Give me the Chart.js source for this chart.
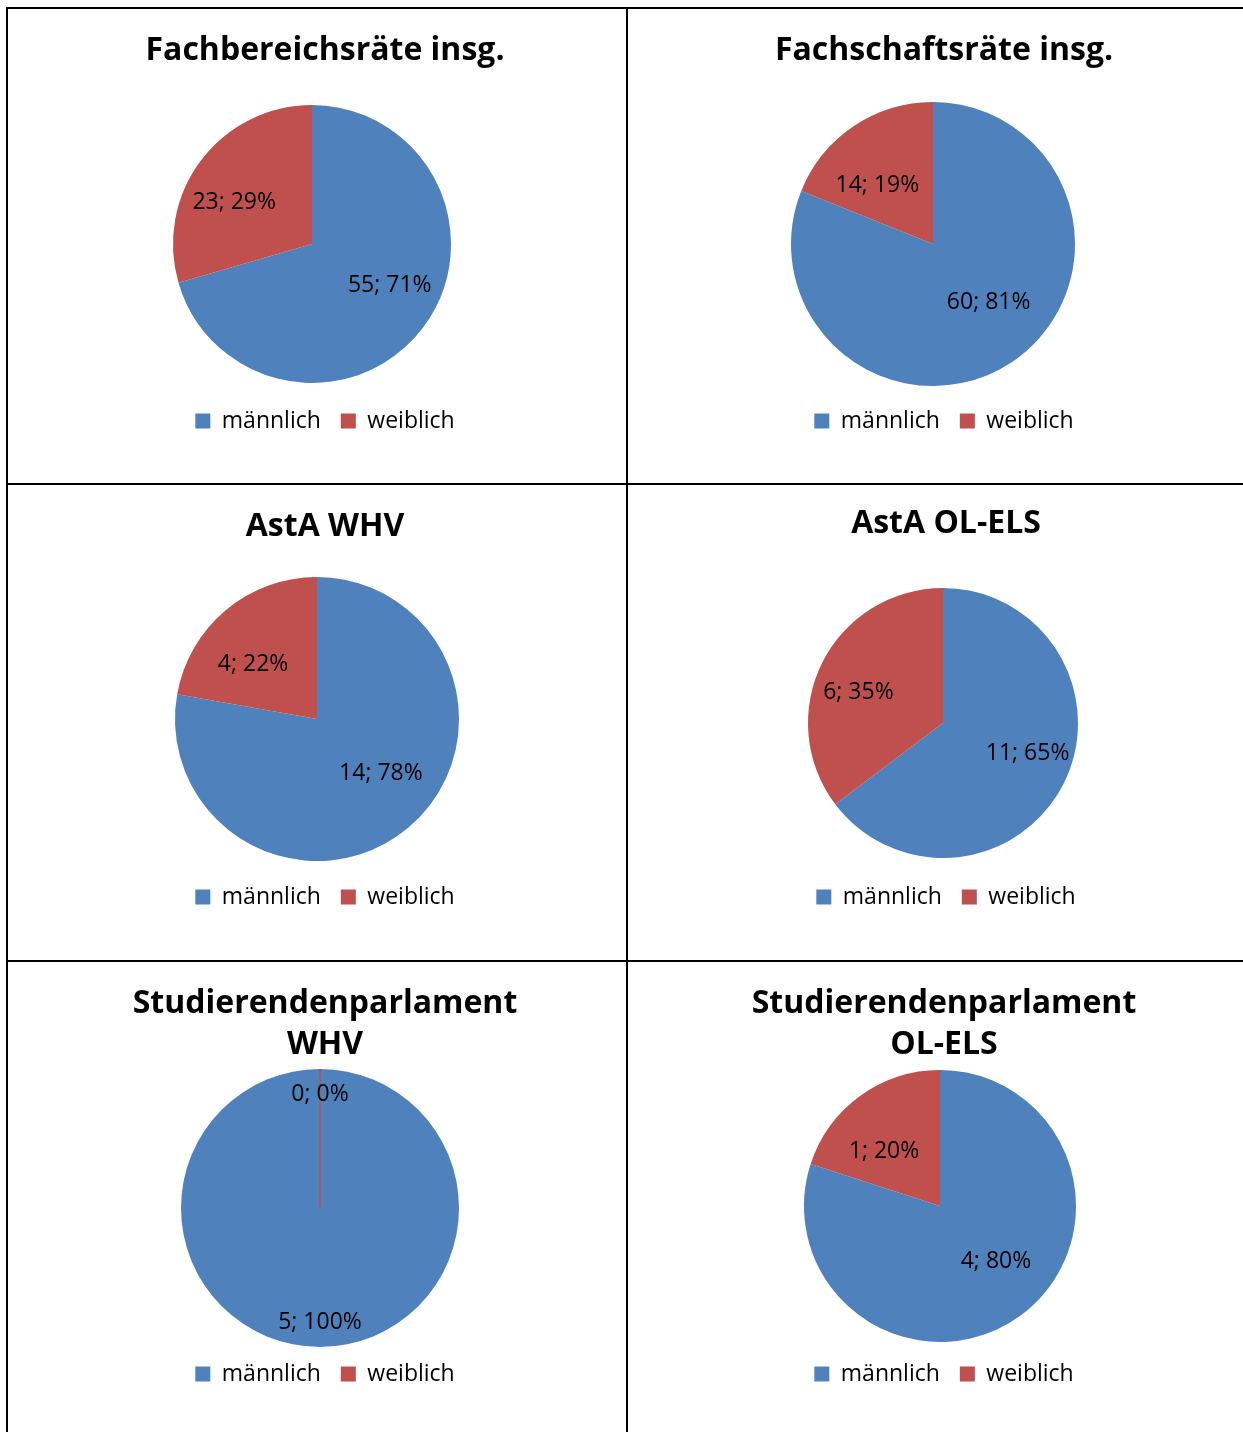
<!DOCTYPE html>
<html>
<head>
<meta charset="utf-8">
<title>Geschlechterverteilung Gremien</title>
<script src="https://cdn.jsdelivr.net/npm/chart.js@4.4.0/dist/chart.umd.min.js"></script>
<style>
    body { margin: 0; background: #fff; width: 1243px; height: 1432px; position: relative; overflow: hidden; }
    canvas { position: absolute; }
    .line { position: absolute; background: #000; z-index: 2; }
</style>
</head>
<body>
<div class="line" style="left:6px;top:7px;width:1237px;height:2px"></div>
<div class="line" style="left:6px;top:7px;width:2px;height:1425px"></div>
<div class="line" style="left:626px;top:7px;width:2px;height:1425px"></div>
<div class="line" style="left:6px;top:483px;width:1237px;height:2px"></div>
<div class="line" style="left:6px;top:960px;width:1237px;height:2px"></div>

<script>
    //--- Daten
    var titles = [
        ['Fachbereichsräte insg.'],
        ['Fachschaftsräte insg.'],
        ['AstA WHV'],
        ['AstA OL-ELS'],
        ['Studierendenparlament', 'WHV'],
        ['Studierendenparlament', 'OL-ELS']
    ];
    var categories = ['männlich', 'weiblich'];
    var maleCounts = [55, 60, 14, 11, 5, 4];
    var femaleCounts = [23, 14, 4, 6, 0, 1];
    var colors = ['#4F81BD', '#C0504D'];

    //--- Lage der einzelnen Diagramme (Pixel im Bild)
    // mid = Mitte von Titel und Legende, cx/cy/r = Kreis
    var boxes = [
        { left: 8, top: 9, width: 618, height: 474, mid: 325, cx: 312, cy: 244, r: 139, titleY: 49, legendY: 421, lx: 0.7, ly: 0.5 },
        { left: 628, top: 9, width: 615, height: 474, mid: 944, cx: 933, cy: 244, r: 142, titleY: 49, legendY: 421, lx: 0.7, ly: 0.5 },
        { left: 8, top: 485, width: 618, height: 475, mid: 325, cx: 317, cy: 719, r: 142, titleY: 525, legendY: 897, lx: 0.7, ly: 0.5 },
        { left: 628, top: 485, width: 615, height: 475, mid: 946, cx: 943, cy: 723, r: 135, titleY: 522, legendY: 897, lx: 0.7, ly: 0.5 },
        { left: 8, top: 962, width: 618, height: 470, mid: 325, cx: 320, cy: 1208, r: 139, titleY: 1002, legendY: 1374, lx: 0.7, ly: 0.82 },
        { left: 628, top: 962, width: 615, height: 470, mid: 944, cx: 940, cy: 1206, r: 136, titleY: 1002, legendY: 1374, lx: 0.7, ly: 0.5 }
    ];

    var titleSize = 32, titleLH = 1.28;
    var legendSize = 23, legendPad = 20;

    // Kreis gegenüber Titel/Legende waagrecht verschieben
    var pieShift = {
        id: 'pieShift',
        beforeDatasetsDraw: function (chart, args, opts) {
            chart.ctx.save();
            chart.ctx.translate(opts.dx, 0);
        },
        afterDatasetsDraw: function (chart) {
            chart.ctx.restore();
        }
    };

    // Beschriftung "Wert; Prozent" in den Segmenten
    var sliceLabels = {
        id: 'sliceLabels',
        afterDatasetsDraw: function (chart, args, opts) {
            var ctx = chart.ctx;
            var meta = chart.getDatasetMeta(0);
            var values = chart.data.datasets[0].data;
            var total = values.reduce(function (a, b) { return a + b; }, 0);
            ctx.save();
            ctx.translate(opts.dx, 0);
            meta.data.forEach(function (arc, i) {
                var p = arc.getProps(['x', 'y', 'startAngle', 'endAngle', 'outerRadius']);
                if (p.endAngle - p.startAngle === 0) {
                    // leeres Segment als Strich
                    ctx.strokeStyle = colors[i];
                    ctx.lineWidth = 1.5;
                    ctx.beginPath();
                    ctx.moveTo(p.x, p.y);
                    ctx.lineTo(p.x + Math.cos(p.startAngle) * p.outerRadius, p.y + Math.sin(p.startAngle) * p.outerRadius);
                    ctx.stroke();
                }
                var mid = (p.startAngle + p.endAngle) / 2;
                ctx.fillStyle = '#000';
                ctx.font = '23px "Open Sans"';
                ctx.textAlign = 'center';
                ctx.textBaseline = 'middle';
                ctx.fillText(values[i] + '; ' + Math.round(values[i] / total * 100) + '%',
                    p.x + Math.cos(mid) * p.outerRadius * opts.lx,
                    p.y + Math.sin(mid) * p.outerRadius * opts.ly);
            });
            ctx.restore();
        }
    };

    boxes.forEach(function (b, i) {
        var canvas = document.createElement('canvas');
        canvas.width = b.width;
        canvas.height = b.height;
        canvas.style.left = b.left + 'px';
        canvas.style.top = b.top + 'px';
        document.body.appendChild(canvas);

        var lh = titleSize * titleLH;
        var c = b.mid - b.left;
        var padL = Math.max(0, 2 * c - b.width);
        var padR = Math.max(0, b.width - 2 * c);
        var tpTop = b.titleY + 2 - b.top - lh / 2;
        var areaBottom = b.legendY - legendPad - legendSize / 2;
        var areaTop = 2 * b.cy - areaBottom;
        var tpBottom = areaTop - b.top - tpTop - titles[i].length * lh;
        var padBottom = Math.max(0, b.top + b.height - areaBottom - (legendSize + legendPad + 10));
        var dx = b.cx - b.mid;

        new Chart(canvas, {
            type: 'pie',
            data: {
                labels: categories,
                datasets: [{
                    data: [maleCounts[i], femaleCounts[i]],
                    backgroundColor: colors,
                    borderWidth: 0,
                    radius: b.r,
                    clip: false
                }]
            },
            options: {
                responsive: false,
                animation: false,
                events: [],
                layout: { padding: { left: padL, right: padR, top: 0, bottom: padBottom } },
                plugins: {
                    title: {
                        display: true,
                        text: titles[i],
                        color: '#000',
                        font: { family: 'Open Sans', size: titleSize, weight: 'bold', lineHeight: titleLH },
                        padding: { top: tpTop, bottom: tpBottom }
                    },
                    legend: {
                        position: 'bottom',
                        labels: {
                            color: '#000',
                            font: { family: 'Open Sans', size: legendSize },
                            boxWidth: 15,
                            boxHeight: 15,
                            padding: legendPad
                        }
                    },
                    tooltip: { enabled: false },
                    pieShift: { dx: dx },
                    sliceLabels: { lx: b.lx, ly: b.ly, dx: dx }
                }
            },
            plugins: [pieShift, sliceLabels]
        });
    });
</script>
</body>
</html>
